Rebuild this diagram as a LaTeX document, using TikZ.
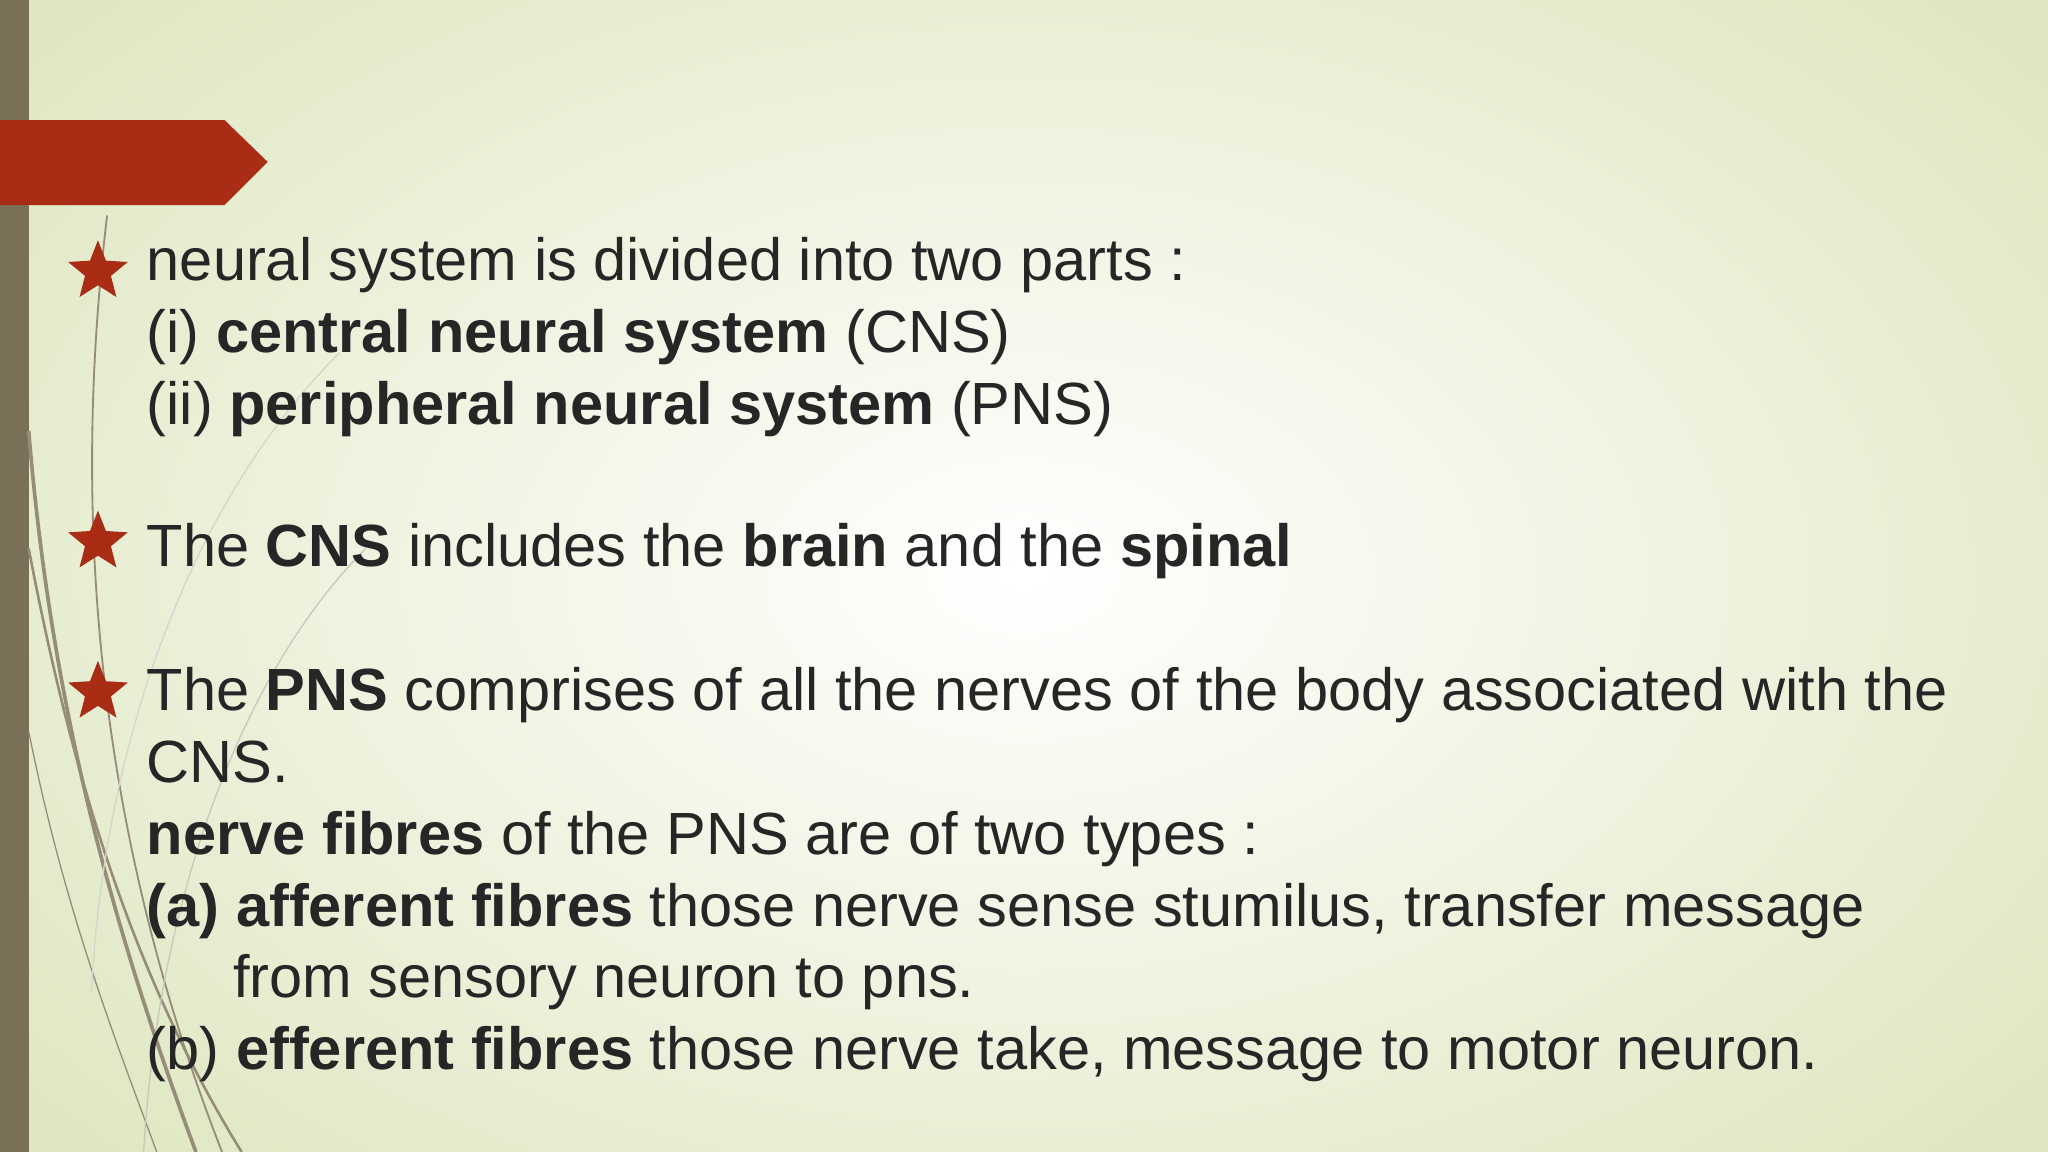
\documentclass[tikz,border=0pt]{standalone}
\usepackage{fontspec}
\setmainfont{Liberation Sans}
\usetikzlibrary{shapes.geometric}
\definecolor{bgout}{HTML}{DCE5BC}
\definecolor{barc}{HTML}{7A7058}
\definecolor{redc}{HTML}{A82D14}
\definecolor{txt}{HTML}{262626}
\tikzset{
  line/.style={anchor=base west,inner sep=0pt,font=\fontsize{22.8}{26}\selectfont,text=txt},
  starm/.style={star,star points=5,star point ratio=2.3,fill=redc,minimum size=24pt,inner sep=0pt},
  deco/.style={draw=barc!80,line width=0.7pt}
}
\begin{document}
\begin{tikzpicture}[x=0.5pt,y=-0.5pt]
\useasboundingbox (0,0) rectangle (1568,882);
\shade[inner color=white,outer color=bgout] (-300,-250) rectangle (1868,1132);
\fill[barc] (0,0) rectangle (22,882);
% decorative curves
\draw[deco] (82,165) .. controls (60,350) and (60,600) .. (170,882);
\draw[deco,line width=1.4pt] (22,330) .. controls (40,550) and (90,720) .. (150,882);
\draw[deco,line width=1pt] (22,420) .. controls (60,620) and (110,760) .. (185,882);
\draw[deco,line width=0.5pt] (22,560) .. controls (50,700) and (90,800) .. (120,882);
\draw[deco,draw=barc!40,line width=0.5pt] (280,420) .. controls (180,520) and (120,700) .. (110,882);
\draw[deco,draw=barc!30,line width=0.5pt] (260,270) .. controls (150,380) and (80,560) .. (70,760);
\fill[redc] (0,92) -- (172,92) -- (205,124) -- (172,157) -- (0,157) -- cycle;
\node[starm] (s1) at (75,208) {};
\node[starm] (s2) at (75,415) {};
\node[starm] (s3) at (75,530) {};
\node[line] (l1) at (112,215) {neural system is divided into two parts :};
\node[line] (l2) at (112,270) {(i) \textbf{central neural system} (CNS)};
\node[line] (l3) at (112,325) {(ii) \textbf{peripheral neural system} (PNS)};
\node[line] (l4) at (112,434) {The \textbf{CNS} includes the \textbf{brain} and the \textbf{spinal}};
\node[line] (l5) at (112,544) {The \textbf{PNS} comprises of all the nerves of the body associated with the};
\node[line] (l6) at (112,599) {CNS.};
\node[line] (l7) at (112,654) {\textbf{nerve fibres} of the PNS are of two types :};
\node[line] (l8) at (112,709) {\textbf{(a) afferent fibres} those nerve sense stumilus, transfer message};
\node[line] (l9) at (178,764) {from sensory neuron to pns.};
\node[line] (l10) at (112,819) {(b) \textbf{efferent fibres} those nerve take, message to motor neuron.};
\end{tikzpicture}
\end{document}
